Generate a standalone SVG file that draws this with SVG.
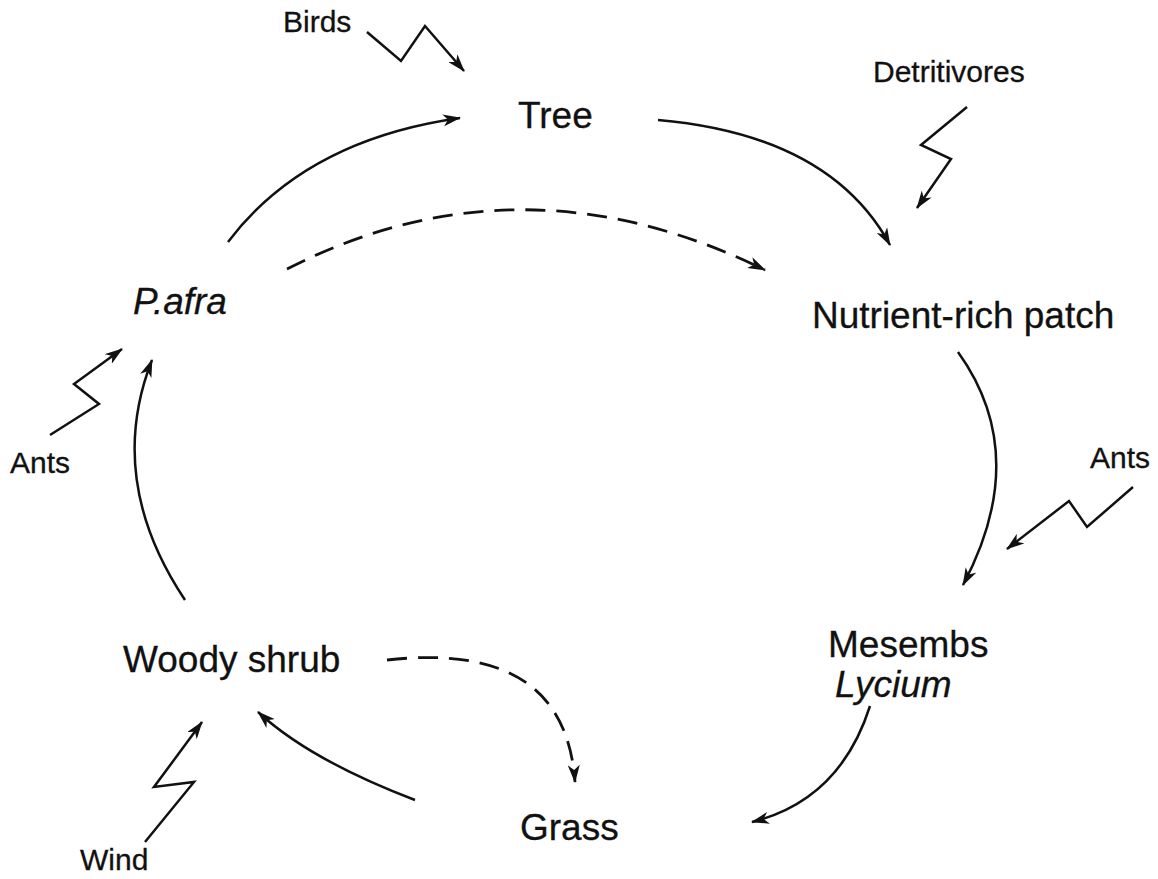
<svg xmlns="http://www.w3.org/2000/svg" width="1158" height="879" viewBox="0 0 1158 879">
<style>
.lbl{font-family:"Liberation Sans",Arial,sans-serif;font-size:37px;fill:#111;stroke:#111;stroke-width:0.3}
.sm{font-family:"Liberation Sans",Arial,sans-serif;font-size:30px;fill:#111;stroke:#111;stroke-width:0.3}
.it{font-style:italic}
.c{fill:none;stroke:#111;stroke-width:2.5;marker-end:url(#ah)}
.d{stroke-dasharray:20 11;stroke-width:2.8}
.z{fill:none;stroke:#111;stroke-width:2.5;stroke-linejoin:miter;marker-end:url(#ah)}
</style>
<defs>
<marker id="ah" viewBox="0 0 18 12" refX="17" refY="6" markerWidth="18" markerHeight="12" markerUnits="userSpaceOnUse" orient="auto">
<path d="M0,0 L18,6 L0,12 L5,6 z" fill="#111"/>
</marker>
</defs>
<rect width="1158" height="879" fill="#fff"/>
<g id="connectors">
<path id="pafra-tree" class="c" d="M228,242 Q305,140 460,118"/>
<path id="tree-nutrient" class="c" d="M658,120 Q830,135 890,245"/>
<path id="pafra-nutrient" class="c d" d="M287,269 Q520,150 765,270"/>
<path id="nutrient-mesembs" class="c" d="M958,352 Q1032,455 963,585"/>
<path id="mesembs-grass" class="c" d="M870,706 Q840,800 752,822"/>
<path id="grass-woody" class="c" d="M415,800 Q310,760 258,712"/>
<path id="woody-pafra" class="c" d="M185,600 Q105,480 152,360"/>
<path id="woody-grass" class="c d" d="M387,660 Q565,640 575,782"/>
<path id="birds-z" class="z" d="M367,32 L401,61 L425,26 L464,71"/>
<path id="detr-z" class="z" d="M967,107 L921,145 L951,159 L917,208"/>
<path id="antsL-z" class="z" d="M50,435 L99,404 L74,384 L122,349"/>
<path id="antsR-z" class="z" d="M1133,487 L1087,527 L1069,501 L1007,549"/>
<path id="wind-z" class="z" d="M145,842 L194,782 L154,787 L202,722"/>
</g>
<g id="tree"><text class="lbl" x="518" y="128">Tree</text></g>
<g id="nutrient"><text class="lbl" x="812" y="328">Nutrient-rich patch</text></g>
<g id="pafra"><text class="lbl it" x="133" y="314">P.afra</text></g>
<g id="mesembs"><text class="lbl" x="828" y="657">Mesembs</text><text class="lbl it" x="835" y="697">Lycium</text></g>
<g id="woody"><text class="lbl" x="123" y="672">Woody shrub</text></g>
<g id="grass"><text class="lbl" x="520" y="840">Grass</text></g>
<g id="birds"><text class="sm" x="283" y="32">Birds</text></g>
<g id="detritivores"><text class="sm" x="873" y="82">Detritivores</text></g>
<g id="ants-left"><text class="sm" x="10" y="473">Ants</text></g>
<g id="ants-right"><text class="sm" x="1090" y="468">Ants</text></g>
<g id="wind"><text class="sm" x="80" y="870">Wind</text></g>
</svg>
